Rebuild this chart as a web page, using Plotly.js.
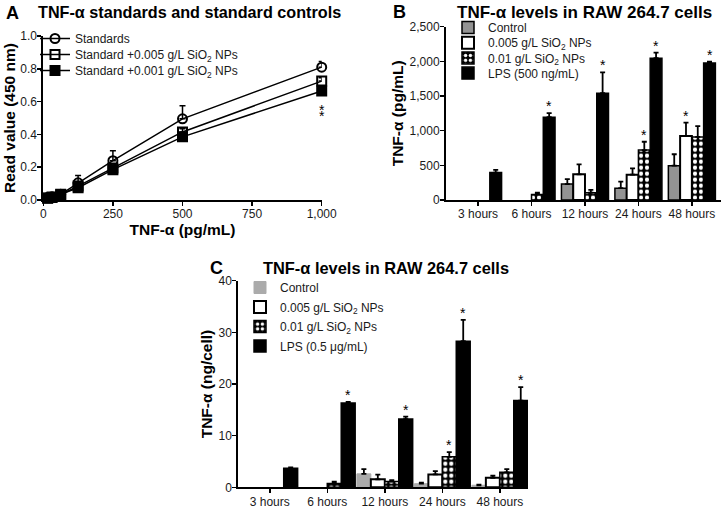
<!DOCTYPE html>
<html><head><meta charset="utf-8">
<script src="https://cdn.plot.ly/plotly-3.0.1.min.js"></script>
<style>html,body{margin:0;padding:0;background:#fff}#chart{width:721px;height:507px}</style>
</head><body><div id="chart"></div>
<script>
// ---------- Panel A: standards (read value at 450 nm) ----------
const concA = [15.6, 31.25, 62.5, 125, 250, 500, 1000];
const standards = [0.015, 0.02, 0.035, 0.105, 0.24, 0.495, 0.81];
const standardsErr = [0.005, 0.005, 0.008, 0.045, 0.06, 0.08, 0.035];
const std005 = [0.012, 0.018, 0.032, 0.085, 0.195, 0.415, 0.725];
const std005Err = [0.004, 0.004, 0.006, 0.015, 0.015, 0.02, 0.02];
const std001 = [0.01, 0.015, 0.035, 0.075, 0.185, 0.385, 0.665];
const std001Err = [0.004, 0.004, 0.006, 0.01, 0.012, 0.015, 0.02];
const sigA = [0, 0, 0, 0, 0, 0, 2]; // number of asterisks under the curves

// ---------- Panel B: TNF-a (pg/mL) ----------
const timePoints = ['3 hours', '6 hours', '12 hours', '24 hours', '48 hours'];
const ctrlB = [null, null, 230, 170, 495];
const ctrlBErr = [0, 0, 70, 95, 165];
const lowB = [null, null, 370, 365, 925];
const lowBErr = [0, 0, 145, 90, 190];
const highB = [null, 80, 105, 720, 910];
const highBErr = [0, 25, 40, 120, 155];
const lpsB = [395, 1195, 1540, 2045, 1975];
const lpsBErr = [40, 58, 300, 80, 20];
const sigCtrlB = [0, 0, 0, 0, 0];
const sigLowB = [0, 0, 0, 0, 1];
const sigHighB = [0, 0, 0, 1, 0];
const sigLpsB = [0, 1, 1, 1, 1];

// ---------- Panel C: TNF-a (ng/cell) ----------
const ctrlC = [null, null, 2.6, 0.7, 0.4];
const ctrlCErr = [0, 0, 0.9, 0.2, 0.1];
const lowC = [null, null, 1.55, 2.5, 1.85];
const lowCErr = [0, 0, 0.9, 0.65, 0.4];
const highC = [null, 0.75, 1.1, 5.9, 2.9];
const highCErr = [0, 0.35, 0.3, 0.9, 0.6];
const lpsC = [3.7, 16.3, 13.2, 28.3, 16.8];
const lpsCErr = [0.15, 0.25, 0.5, 4.1, 2.6];
const sigCtrlC = [0, 0, 0, 0, 0];
const sigLowC = [0, 0, 0, 0, 0];
const sigHighC = [0, 0, 0, 1, 0];
const sigLpsC = [0, 1, 1, 1, 1];

const namesB = ['Control', '0.005 g/L SiO<sub>2</sub> NPs', '0.01 g/L SiO<sub>2</sub> NPs', 'LPS (500 ng/mL)'];
const namesC = ['Control', '0.005 g/L SiO<sub>2</sub> NPs', '0.01 g/L SiO<sub>2</sub> NPs', 'LPS (0.5 \u03bcg/mL)'];

// ---------- styling ----------
const FONT = 'Liberation Sans, Arial, Helvetica, sans-serif';
const INK = '#000000';
const zeros = n => new Array(n).fill(0);
const errUp = (arr, thick, w) => ({type: 'data', symmetric: false, array: arr, arrayminus: zeros(arr.length), color: INK, thickness: thick, width: w, visible: true});

const wB = 0.22, offB = [-0.44, -0.22, 0, 0.22];
const wC = 0.2425, offC = [-0.485, -0.2425, 0, 0.2425];

const checker = {shape: '.', bgcolor: '#000000', fgcolor: '#ffffff', size: 6, solidity: 0.4, fillmode: 'replace'};
const fillStyles = [
  {color: '#939393', line: {color: INK, width: 1.5}},
  {color: '#ffffff', line: {color: INK, width: 2}},
  {color: '#000000', line: {color: INK, width: 1.5}, pattern: checker},
  {color: '#000000', line: {color: INK, width: 1.5}}
];
const fillStylesC = [
  {color: '#ababab', line: {color: '#ababab', width: 1}},
  fillStyles[1], fillStyles[2], fillStyles[3]
];

const traces = [];
// Panel A scatter traces
const aSeries = [
  {name: 'Standards', y: standards, e: standardsErr, sym: 'circle-open'},
  {name: 'Standard +0.005 g/L SiO<sub>2</sub> NPs', y: std005, e: std005Err, sym: 'square-open'},
  {name: 'Standard +0.001 g/L SiO<sub>2</sub> NPs', y: std001, e: std001Err, sym: 'square'}
];
aSeries.forEach(s => traces.push({
  type: 'scatter', mode: 'lines+markers', x: concA, y: s.y, name: s.name,
  xaxis: 'x', yaxis: 'y', legend: 'legend', cliponaxis: false,
  line: {color: INK, width: 1.5},
  marker: {symbol: s.sym, size: 9, color: INK, line: {color: INK, width: 2}},
  error_y: errUp(s.e, 1.5, 3)
}));

// Panel B bars
const bVals = [ctrlB, lowB, highB, lpsB], bErrs = [ctrlBErr, lowBErr, highBErr, lpsBErr];
bVals.forEach((v, k) => traces.push({
  type: 'bar', x: timePoints, y: v, name: namesB[k], xaxis: 'x2', yaxis: 'y2', legend: 'legend2',
  width: wB, offset: offB[k], marker: fillStyles[k], error_y: errUp(bErrs[k], 1.8, 2.5)
}));
// Panel C bars
const cVals = [ctrlC, lowC, highC, lpsC], cErrs = [ctrlCErr, lowCErr, highCErr, lpsCErr];
cVals.forEach((v, k) => traces.push({
  type: 'bar', x: timePoints, y: v, name: namesC[k], xaxis: 'x3', yaxis: 'y3', legend: 'legend3',
  width: wC, offset: offC[k], marker: fillStylesC[k], error_y: errUp(cErrs[k], 1.8, 2.5)
}));

// ---------- annotations ----------
const ann = [];
const boldTxt = (text, x, y, size, xanchor) => ({text: text, x: x, y: y, xref: 'paper', yref: 'paper', xanchor: xanchor || 'center', yanchor: 'middle', showarrow: false, font: {family: FONT, size: size, color: INK, weight: 'bold'}});
ann.push(boldTxt('A', 4 / 721, 1 - 13 / 507, 18, 'left'));
ann.push(boldTxt('TNF-\u03b1 standards and standard controls', 189 / 721, 1 - 12 / 507, 16.2));
ann.push(boldTxt('B', 391 / 721, 1 - 12 / 507, 18, 'left'));
ann.push(boldTxt('TNF-\u03b1 levels in RAW 264.7 cells', 584 / 721, 1 - 12 / 507, 17));
ann.push(boldTxt('C', 208 / 721, 1 - 268 / 507, 18, 'left'));
ann.push(boldTxt('TNF-\u03b1 levels in RAW 264.7 cells', 386 / 721, 1 - 268 / 507, 16.4));

// asterisks panel A (stacked under lowest curve)
sigA.forEach((n, i) => {
  for (let j = 0; j < n; j++) {
    ann.push({text: '*', x: concA[i], y: std001[i], xref: 'x', yref: 'y', showarrow: false,
      yshift: -19 - 6.5 * j, font: {family: FONT, size: 14, color: INK}});
  }
});
// asterisks on bars
function barStars(vals, errs, sigs, offs, w, xr, yr) {
  vals.forEach((v, k) => {
    sigs[k].forEach((s, i) => {
      if (s) ann.push({text: '*', x: i + offs[k] + w / 2, y: v[i] + errs[k][i], xref: xr, yref: yr,
        xanchor: 'center', yanchor: 'bottom', showarrow: false, yshift: -3,
        font: {family: FONT, size: 14, color: INK}});
    });
  });
}
barStars(bVals, bErrs, [sigCtrlB, sigLowB, sigHighB, sigLpsB], offB, wB, 'x2', 'y2');
barStars(cVals, cErrs, [sigCtrlC, sigLowC, sigHighC, sigLpsC], offC, wC, 'x3', 'y3');

// ---------- axes ----------
const axBase = {showgrid: false, zeroline: false, showline: true, linecolor: INK, linewidth: 2,
  ticks: 'outside', ticklen: 4, tickwidth: 1.5, tickcolor: INK, ticklabelstandoff: -2,
  tickfont: {family: FONT, size: 12, color: '#1a1a1a'}};
const titleFont = {family: FONT, size: 15.5, color: INK, weight: 'bold'};
const legendBase = {xanchor: 'left', yanchor: 'top', bgcolor: 'rgba(0,0,0,0)', borderwidth: 0,
  font: {family: FONT, size: 12, color: '#1a1a1a'}, itemwidth: 30, tracegroupgap: 0};

const layout = {
  width: 721, height: 507, margin: {l: 0, r: 0, t: 0, b: 0},
  paper_bgcolor: '#ffffff', plot_bgcolor: '#ffffff',
  font: {family: FONT, color: INK}, barmode: 'overlay', showlegend: true,
  xaxis: Object.assign({}, axBase, {domain: [43.3 / 721, 321.7 / 721], range: [0, 1000], anchor: 'y',
    tickvals: [0, 250, 500, 750, 1000], tickformat: ',',
    title: {text: 'TNF-\u03b1 (pg/mL)', font: titleFont, standoff: 0}}),
  yaxis: Object.assign({}, axBase, {domain: [1 - 200 / 507, 1 - 36 / 507], range: [0, 1], anchor: 'x',
    dtick: 0.2, tickformat: '.1f',
    title: {text: 'Read value (450 nm)', font: titleFont, standoff: 1}}),
  xaxis2: Object.assign({}, axBase, {domain: [446 / 721, 1], range: [-0.6, 4.545], anchor: 'y2', type: 'category'}),
  yaxis2: Object.assign({}, axBase, {domain: [1 - 200 / 507, 1 - 26.7 / 507], range: [0, 2500], anchor: 'x2',
    dtick: 500, tickformat: ',',
    title: {text: 'TNF-\u03b1 (pg/mL)', font: titleFont, standoff: 2}}),
  xaxis3: Object.assign({}, axBase, {domain: [238.3 / 721, 528 / 721], range: [-0.547, 4.49], anchor: 'y3', type: 'category'}),
  yaxis3: Object.assign({}, axBase, {domain: [1 - 487.3 / 507, 1 - 280.7 / 507], range: [0, 40], anchor: 'x3',
    dtick: 10, title: {text: 'TNF-\u03b1 (ng/cell)', font: titleFont, standoff: 2}}),
  legend: Object.assign({}, legendBase, {x: 35 / 721, y: 1 - 24 / 507}),
  legend2: Object.assign({}, legendBase, {x: 448 / 721, y: 1 - 13 / 507}),
  legend3: Object.assign({}, legendBase, {x: 240 / 721, y: 1 - 273 / 507}),
  annotations: ann
};

// tighter legend row spacing, as in the original figure
const legendRowGap = {legend: 16, legend2: 15.2, legend3: 19.5};

Plotly.newPlot('chart', traces, layout, {displayModeBar: false, staticPlot: true}).then(gd => {
  Object.keys(legendRowGap).forEach(id => {
    const lg = gd.querySelector('g.' + id);
    if (!lg) return;
    const items = lg.querySelectorAll('g.traces');
    let first = null;
    items.forEach((it, i) => {
      const t = it.getAttribute('transform') || '';
      const m = /translate\(\s*([-\d.e]+)[ ,]+([-\d.e]+)\s*\)/.exec(t);
      if (!m) return;
      const x = parseFloat(m[1]), y = parseFloat(m[2]);
      if (first === null) first = y;
      it.setAttribute('transform', 'translate(' + x + ',' + (first + i * legendRowGap[id]) + ')');
    });
  });
});
</script>
</body></html>
